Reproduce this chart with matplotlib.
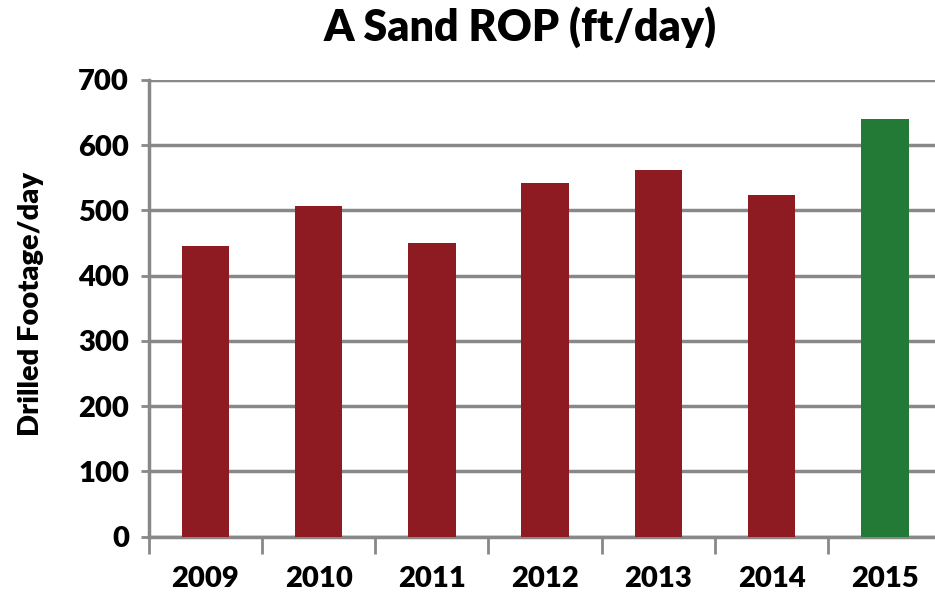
import matplotlib.pyplot as plt
import numpy as np

years = ['2009', '2010', '2011', '2012', '2013', '2014', '2015']
rop = [445, 507, 450, 542, 562, 523, 640]
colors = ['#8E1A22'] * 6 + ['#237A36']

plt.rcParams['font.family'] = ['Lato', 'DejaVu Sans']
plt.rcParams['font.weight'] = 'heavy'

fig = plt.figure(figsize=(9.35, 6.01), dpi=100)
ax = fig.add_axes([0.159, 0.107, 0.848, 0.76])

x = np.arange(len(years))
ax.bar(x, rop, width=0.42, color=colors, zorder=3)

ax.set_xlim(-0.5, len(years) - 0.5)
ax.set_ylim(0, 700)
ax.set_yticks(np.arange(0, 701, 100))
ax.yaxis.grid(True, color='#888888', linewidth=2.5, zorder=0)

ax.set_xticks(x)
ax.set_xticklabels(years, fontsize=21, fontweight='heavy')
ax.set_xticks(np.arange(-0.5, len(years) - 0.5, 1), minor=True)
ax.tick_params(axis='x', which='major', length=0, pad=21)
ax.tick_params(axis='x', which='minor', length=12, width=2, color='#888888')
ax.tick_params(axis='y', labelsize=21, length=6, width=2, color='#888888', pad=8)
for lab in ax.get_yticklabels():
    lab.set_fontweight('heavy')

for s in ['top', 'right']:
    ax.spines[s].set_visible(False)
for s in ['left', 'bottom']:
    ax.spines[s].set_color('#888888')
    ax.spines[s].set_linewidth(2.5)

ax.set_ylabel('Drilled Footage/day', fontsize=21, fontweight='heavy')
ax.yaxis.set_label_coords(-0.132, 0.51)
fig.suptitle('A Sand ROP (ft/day)', fontsize=31, fontweight='heavy', x=0.556, y=0.99)

fig.savefig('out.png', dpi=100)
